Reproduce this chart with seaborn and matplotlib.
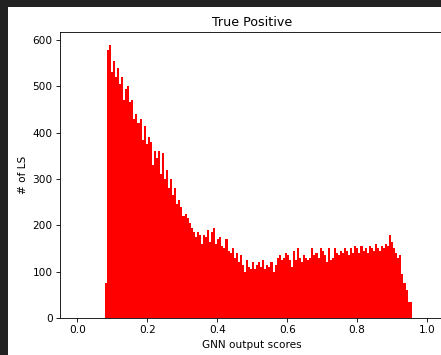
import numpy as np
import pandas as pd
import matplotlib
matplotlib.use("Agg")
import matplotlib.pyplot as plt
import seaborn as sns
from matplotlib.patches import Rectangle

# Histogram range and counts per bin
score_min = 0.078
score_max = 0.956
counts = [
    75, 578, 589, 530, 555, 520, 540, 505, 520, 470,
    495, 500, 465, 470, 430, 440, 420, 430, 385, 415,
    375, 390, 380, 330, 360, 345, 360, 310, 355, 300,
    320, 280, 300, 265, 280, 245, 255, 240, 220, 225,
    215, 205, 195, 185, 175, 185, 180, 160, 180, 175,
    190, 165, 185, 195, 160, 170, 175, 155, 150, 170,
    145, 140, 150, 130, 140, 120, 135, 115, 100, 125,
    110, 105, 120, 105, 115, 120, 110, 125, 105, 115,
    110, 120, 100, 115, 130, 135, 125, 130, 140, 135,
    125, 110, 145, 125, 150, 130, 120, 135, 130, 125,
    130, 150, 135, 140, 130, 150, 145, 135, 120, 150,
    125, 130, 150, 140, 135, 145, 140, 150, 145, 135,
    150, 140, 155, 150, 140, 155, 145, 150, 140, 155,
    150, 145, 160, 150, 145, 155, 150, 160, 155, 180,
    165, 150, 140, 130, 135, 95, 75, 60, 35, 35,
]
title = "True Positive"
x_label = "GNN output scores"
y_label = "# of LS"

n_bins = len(counts)
edges = np.linspace(score_min, score_max, n_bins + 1)
centers = (edges[:-1] + edges[1:]) / 2
df = pd.DataFrame({"score": centers, "count": counts})

W, H = 441, 355
DPI = 76
fig = plt.figure(figsize=(W / DPI, H / DPI), dpi=DPI, facecolor="white")
ax = fig.add_axes([60 / W, 1 - 318 / H, (444.5 - 60) / W, (318 - 32) / H])

sns.histplot(data=df, x="score", weights="count", bins=n_bins,
             binrange=(score_min, score_max), color="red",
             alpha=1.0, linewidth=0, edgecolor="red", ax=ax)

ax.set_xlim(-0.05, 1.05)
ax.set_ylim(0, 617)
ax.set_xticks([0.0, 0.2, 0.4, 0.6, 0.8, 1.0])
ax.set_yticks([0, 100, 200, 300, 400, 500, 600])
ax.set_title(title, fontsize=12)
ax.set_xlabel(x_label, fontsize=10)
ax.set_ylabel(y_label, fontsize=10)
ax.tick_params(labelsize=10)

# dark screenshot borders (left and top)
fig.add_artist(Rectangle((0, 0), 8 / W, 1, transform=fig.transFigure,
                         facecolor="#222222", edgecolor="none", zorder=10))
fig.add_artist(Rectangle((0, 1 - 7 / H), 1, 7 / H, transform=fig.transFigure,
                         facecolor="#222222", edgecolor="none", zorder=10))

fig.savefig("out.png", dpi=DPI)
